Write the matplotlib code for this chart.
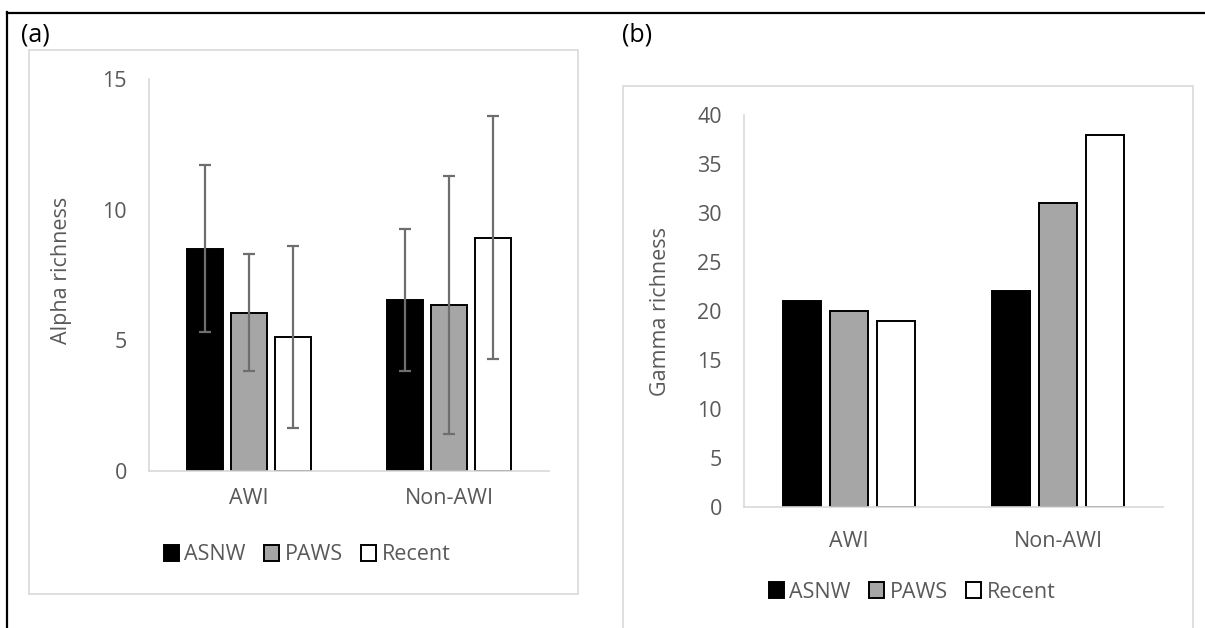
"""
Alpha / Gamma richness bar charts (AWI vs Non-AWI).
"""

import matplotlib
matplotlib.use("Agg")
import matplotlib.pyplot as plt
from matplotlib.patches import Rectangle, Patch
from matplotlib.lines import Line2D
import numpy as np

plt.rcParams['font.family'] = ['Open Sans', 'DejaVu Sans']

# data
categories = ["AWI", "Non-AWI"]
series = ["ASNW", "PAWS", "Recent"]
colors = ["#000000", "#A6A6A6", "#FFFFFF"]

alpha_mean = {
    "ASNW": [8.50, 6.53],
    "PAWS": [6.06, 6.34],
    "Recent": [5.12, 8.93],
}
alpha_err = {
    "ASNW": [3.20, 2.72],
    "PAWS": [2.25, 4.93],
    "Recent": [3.48, 4.65],
}
gamma_vals = {
    "ASNW": [21, 22],
    "PAWS": [20, 31],
    "Recent": [19, 38],
}

W, H = 1205, 628
TICK_COLOR = "#595959"
GRID_GRAY = "#D9D9D9"
FS = 15.5


def px_box(x0, y_top, x1, y_bot):
    """pixel box (top-left origin) -> figure fraction [l, b, w, h]."""
    return [x0 / W, (H - y_bot) / H, (x1 - x0) / W, (y_bot - y_top) / H]


def draw_panel(ax, values, errors, ylim, yticks, spacing, xpad):
    x = np.arange(len(categories))
    offsets = [-spacing, 0, spacing]
    for s, c, off in zip(series, colors, offsets):
        yerr = errors[s] if errors is not None else None
        ax.bar(x + off, values[s], width=0.18, color=c, edgecolor="black",
               linewidth=1.4, zorder=1,
               yerr=yerr,
               error_kw=dict(ecolor="#6E6E6E", elinewidth=1.6, capsize=4.5,
                             capthick=1.6, zorder=3))
    ax.set_xlim(-0.5, len(categories) - 0.5)
    ax.set_ylim(*ylim)
    ax.set_yticks(yticks)
    ax.set_xticks(x)
    ax.set_xticklabels(categories)
    for side in ["top", "right"]:
        ax.spines[side].set_visible(False)
    for side in ["left", "bottom"]:
        ax.spines[side].set_color(GRID_GRAY)
        ax.spines[side].set_linewidth(1.2)
    ax.tick_params(axis="both", length=0, labelsize=FS, colors=TICK_COLOR)
    ax.tick_params(axis="y", pad=16)
    ax.tick_params(axis="x", pad=xpad)


fig = plt.figure(figsize=(W / 100, H / 100), dpi=100)

# outer table lines
fig.add_artist(Line2D([7 / W, 1], [1 - 12.5 / H] * 2, color="black",
                      linewidth=1.6, transform=fig.transFigure))
fig.add_artist(Line2D([7.5 / W] * 2, [0, 1 - 12 / H], color="black",
                      linewidth=1.6, transform=fig.transFigure))

# chart-area frames
for l, b, w, h in [px_box(29, 50, 578, 594), px_box(623, 86, 1193, 660)]:
    fig.add_artist(Rectangle((l, b), w, h, fill=False, edgecolor=GRID_GRAY,
                             linewidth=1.2, transform=fig.transFigure))

fig.text(21 / W, 1 - 35 / H, "(a)", fontsize=18, color="black", va="center")
fig.text(622 / W, 1 - 35 / H, "(b)", fontsize=18, color="black", va="center")

# (a) alpha richness
ax1 = fig.add_axes(px_box(149, 79, 549, 471))
draw_panel(ax1, alpha_mean, alpha_err, (0, 15), [0, 5, 10, 15], 0.22, 12)
fig.text(61 / W, 1 - 270 / H, "Alpha richness", rotation=90, fontsize=FS,
         color=TICK_COLOR, ha="center", va="center")

# (b) gamma richness
ax2 = fig.add_axes(px_box(744, 115, 1163, 507))
draw_panel(ax2, gamma_vals, None, (0, 40), list(range(0, 41, 5)), 0.224, 17)
fig.text(660 / W, 1 - 311 / H, "Gamma richness", rotation=90, fontsize=FS,
         color=TICK_COLOR, ha="center", va="center")

# legends
handles = [Patch(facecolor=c, edgecolor="black", linewidth=1.4) for c in colors]
for center, y in [((307, 555)), ((912, 592))]:
    leg = fig.legend(handles, series, loc="center", ncol=3, frameon=False,
                     bbox_to_anchor=(center / W, 1 - y / H),
                     fontsize=FS, handlelength=0.7, handleheight=0.7,
                     handletextpad=0.25, columnspacing=0.85)
    for t in leg.get_texts():
        t.set_color(TICK_COLOR)

plt.savefig("out.png", dpi=100)
